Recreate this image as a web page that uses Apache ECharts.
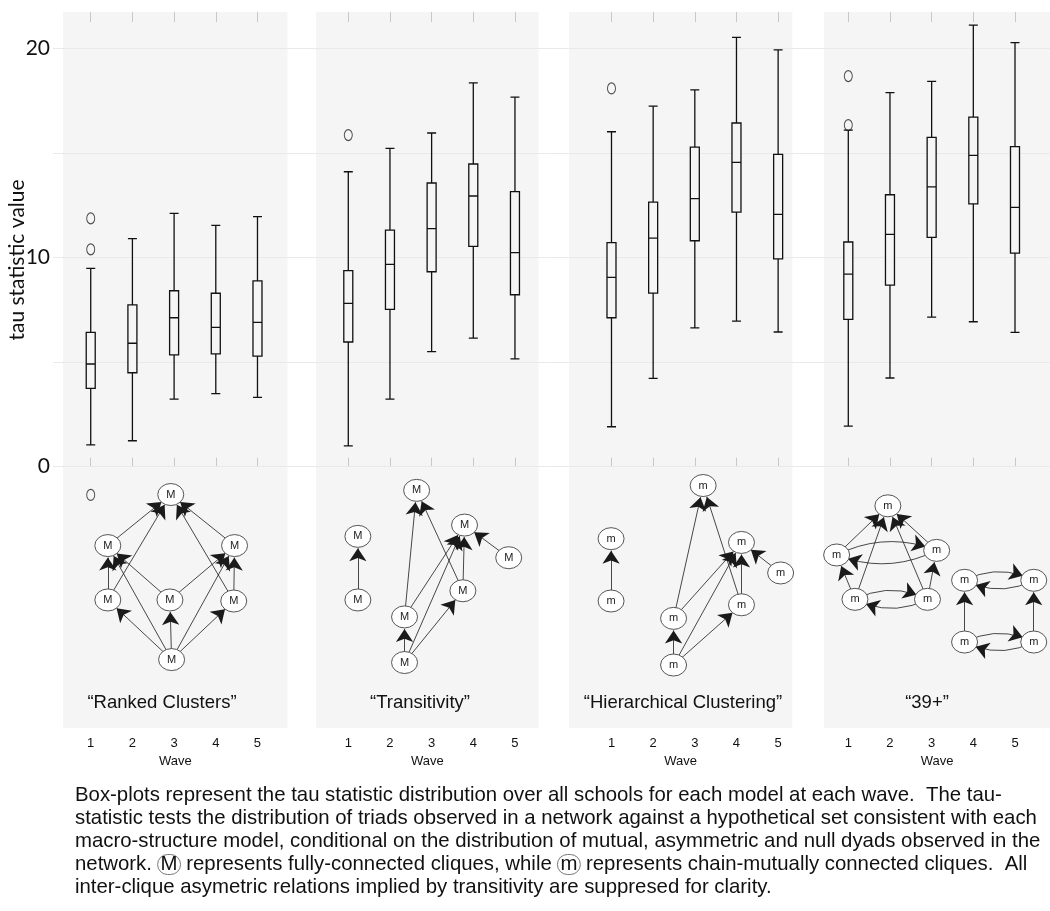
<!DOCTYPE html>
<html lang="en">
<head>
<meta charset="UTF-8">
<title>tau statistic</title>
<style>
    * { margin: 0; }
    html, body, #chart { width: 100%; height: 100%; background: #fff; }
</style>
</head>
<body>
<div id="chart"></div>
<script src="https://cdn.jsdelivr.net/npm/echarts@6/dist/echarts.min.js"></script>
<script>
    // ---- data ----
    var waves = [1, 2, 3, 4, 5];
    var modelNames = ['\u201cRanked Clusters\u201d', '\u201cTransitivity\u201d', '\u201cHierarchical Clustering\u201d', '\u201c39+\u201d'];
    var yTicks = [0, 10, 20];

    // [min, Q1, median, Q3, max] per wave
    var rankedBox = [[1.04, 3.74, 4.91, 6.42, 9.48], [1.24, 4.49, 5.90, 7.74, 10.90], [3.23, 5.35, 7.12, 8.41, 12.11], [3.49, 5.39, 6.66, 8.29, 11.54], [3.31, 5.29, 6.90, 8.88, 11.95]];
    var transBox = [[1.00, 5.96, 7.81, 9.37, 14.10], [3.23, 7.52, 9.67, 11.31, 15.22], [5.50, 9.32, 11.38, 13.56, 15.95], [6.15, 10.53, 12.94, 14.47, 18.35], [5.15, 8.22, 10.23, 13.15, 17.67]];
    var hierBox = [[1.91, 7.12, 9.05, 10.71, 16.01], [4.22, 8.30, 10.93, 12.65, 17.24], [6.64, 10.80, 12.81, 15.28, 18.01], [6.96, 12.17, 14.55, 16.43, 20.52], [6.44, 9.93, 12.06, 14.93, 19.92]];
    var plus39Box = [[1.94, 7.04, 9.21, 10.74, 16.09], [4.24, 8.68, 11.11, 13.00, 17.88], [7.15, 10.96, 13.38, 15.74, 18.42], [6.93, 12.56, 14.88, 16.71, 21.11], [6.42, 10.21, 12.40, 15.30, 20.27]];

    // outliers [wave, value]
    var rankedOut = [[1, 11.87], [1, 10.39], [1, -1.35]];
    var transOut = [[1, 15.85]];
    var hierOut = [[1, 18.08]];
    var plus39Out = [[1, 18.67], [1, 16.33]];

    // diagram nodes [id, text, x (wave), y (tau)] and links [from, to, curveness]
    var rankedNodes = [['A', 'M', 2.92, -1.33], ['B', 'M', 1.41, -3.77], ['C', 'M', 4.45, -3.77], ['D', 'M', 1.41, -6.37], ['E', 'M', 2.90, -6.37], ['F', 'M', 4.43, -6.42], ['G', 'M', 2.94, -9.22]];
    var rankedLinks = [['B', 'A', 0], ['D', 'A', 0], ['C', 'A', 0], ['F', 'A', 0], ['D', 'B', 0], ['E', 'B', 0], ['G', 'B', 0], ['G', 'D', 0], ['G', 'E', 0], ['G', 'F', 0], ['G', 'C', 0], ['E', 'C', 0], ['F', 'C', 0]];
    var transNodes = [['P1', 'M', 1.23, -3.33], ['P2', 'M', 1.23, -6.37], ['T', 'M', 2.64, -1.13], ['R', 'M', 3.79, -2.79], ['S', 'M', 4.85, -4.35], ['Q', 'M', 3.75, -5.93], ['U', 'M', 2.35, -7.18], ['V', 'M', 2.35, -9.36]];
    var hierNodes = [['P1', 'm', 0.99, -3.44], ['P2', 'm', 0.99, -6.42], ['T', 'm', 3.20, -0.90], ['R', 'm', 4.12, -3.62], ['S', 'm', 5.06, -5.08], ['Q', 'm', 4.12, -6.60], ['U', 'm', 2.49, -7.25], ['V', 'm', 2.49, -9.48]];
    var transLinks = [['P2', 'P1', 0], ['U', 'T', 0], ['Q', 'T', 0], ['U', 'R', 0], ['V', 'R', 0], ['Q', 'R', 0], ['S', 'R', 0], ['V', 'U', 0], ['V', 'Q', 0]];
    var plus39Nodes = [['A', 'm', 1.95, -1.87], ['L', 'm', 0.72, -4.22], ['R', 'm', 3.12, -4.00], ['BL', 'm', 1.16, -6.34], ['BR', 'm', 2.90, -6.34],
        ['TL', 'm', 3.79, -5.43], ['TR', 'm', 5.45, -5.43], ['BL2', 'm', 3.79, -8.38], ['BR2', 'm', 5.45, -8.38]];
    var plus39Links = [['L', 'A', 0], ['BL', 'A', 0], ['BR', 'A', 0], ['R', 'A', 0], ['L', 'R', 0.22], ['R', 'L', 0.22], ['BL', 'L', 0], ['BR', 'R', 0],
        ['BL', 'BR', 0.25], ['BR', 'BL', 0.25], ['TL', 'TR', 0.25], ['TR', 'TL', 0.25], ['BL2', 'TL', 0], ['BR2', 'TR', 0], ['BL2', 'BR2', 0.25], ['BR2', 'BL2', 0.25]];

    var captionLines = [
        'Box-plots represent the tau statistic distribution over all schools for each model at each wave.  The tau-',
        'statistic tests the distribution of triads observed in a network against a hypothetical set consistent with each',
        'macro-structure model, conditional on the distribution of mutual, asymmetric and null dyads observed in the',
        'network. {c|M} represents fully-connected cliques, while {c|m} represents chain-mutually connected cliques.  All',
        'inter-clique asymetric relations implied by transitivity are suppresed for clarity.'
    ];

    var boxes = [rankedBox, transBox, hierBox, plus39Box];
    var outs = [rankedOut, transOut, hierOut, plus39Out];
    var nodes = [rankedNodes, transNodes, hierNodes, plus39Nodes];
    var links = [rankedLinks, transLinks, transLinks, plus39Links];

    // ---- layout ----
    var panels = [
        { left: 63, width: 224.5, xmin: 0.335, xmax: 5.72, title: 162 },
        { left: 316, width: 222.5, xmin: 0.225, xmax: 5.565, title: 420 },
        { left: 569, width: 223.3, xmin: -0.02, xmax: 5.34, title: 683 },
        { left: 824, width: 226, xmin: 0.417, xmax: 5.84, title: 927 }
    ];
    var panelTop = 12, panelHeight = 716, ymin = -12.49, ymax = 21.735;
    var sans = 'Liberation Sans, Arial, sans-serif';
    var axisFont = 'Lato, Open Sans, sans-serif';

    var chart = echarts.init(document.getElementById('chart'));

    var grid = [], xAxis = [], yAxis = [], series = [], graphic = [];
    panels.forEach(function (p, i) {
        grid.push({ left: p.left, top: panelTop, width: p.width, height: panelHeight, show: true, backgroundColor: '#f5f5f5', borderWidth: 0 });
        xAxis.push({
            type: 'value', gridIndex: i, min: p.xmin, max: p.xmax, position: 'bottom',
            axisLine: { show: false }, splitLine: { show: false },
            axisTick: { show: true, inside: true, length: 9, customValues: waves, lineStyle: { color: '#c8c8c8' } },
            axisLabel: { customValues: waves, margin: 9, fontSize: 13, color: '#111', fontFamily: sans },
            name: 'Wave', nameLocation: 'middle', nameGap: 23,
            nameTextStyle: { fontSize: 13, color: '#111', fontFamily: sans }
        });
        xAxis.push({
            type: 'value', gridIndex: i, min: p.xmin, max: p.xmax, position: 'top',
            axisLine: { show: false }, splitLine: { show: false }, axisLabel: { show: false },
            axisTick: { show: true, inside: true, length: 10, customValues: waves, lineStyle: { color: '#c8c8c8' } }
        });
        yAxis.push({ type: 'value', gridIndex: i, min: ymin, max: ymax, show: false });

        series.push({
            type: 'boxplot', xAxisIndex: 2 * i, yAxisIndex: i,
            boxWidth: [9, 9],
            itemStyle: { color: '#f5f5f5', borderColor: '#111', borderWidth: 1.3 },
            data: boxes[i].map(function (b, k) { return [waves[k]].concat(b); })
        });
        series.push({
            type: 'scatter', xAxisIndex: 2 * i, yAxisIndex: i,
            symbol: 'circle', symbolSize: [8, 11],
            itemStyle: { color: 'rgba(0,0,0,0)', borderColor: '#222', borderWidth: 1.1 },
            data: outs[i]
        });
        var txt = {};
        nodes[i].forEach(function (n) { txt[n[0]] = n[1]; });
        series.push({
            type: 'graph', coordinateSystem: 'cartesian2d', xAxisIndex: 2 * i, yAxisIndex: i,
            layout: 'none', roam: false, z: 3,
            symbol: 'circle', symbolSize: [26, 22],
            itemStyle: { color: '#fff', borderColor: '#444', borderWidth: 0.9 },
            label: { show: true, position: 'inside', fontSize: 11, color: '#222', fontFamily: sans, formatter: function (d) { return txt[d.name]; } },
            edgeSymbol: ['none', 'arrow'], edgeSymbolSize: [0, 13],
            lineStyle: { color: '#1a1a1a', width: 0.8, opacity: 1 },
            data: nodes[i].map(function (n) { return { name: n[0], value: [n[2], n[3]] }; }),
            links: links[i].map(function (l) { return { source: l[0], target: l[1], lineStyle: { curveness: l[2] } }; })
        });

        graphic.push({
            type: 'text', x: p.title, y: 703, z: 10,
            style: { text: modelNames[i], fontSize: 18.5, fontFamily: sans, fill: '#111', align: 'center', verticalAlign: 'middle' }
        });
    });

    // full-width grid for the shared y scale (labels + grid lines)
    grid.push({ left: 53, right: 0, top: 466.7 - 20 * 20.92, height: 20 * 20.92 });
    xAxis.push({ type: 'value', gridIndex: 4, show: false });
    yAxis.push({
        type: 'value', gridIndex: 4, min: 0, max: 20, interval: 5, z: 1,
        axisLine: { show: false }, axisTick: { show: false },
        splitLine: { show: true, lineStyle: { color: '#e9e9e9', width: 1 } },
        axisLabel: {
            margin: 3, fontSize: 21, color: '#111', fontFamily: axisFont,
            formatter: function (v) { return yTicks.indexOf(v) >= 0 ? String(v) : ''; }
        }
    });

    graphic.push({
        type: 'text', x: 17, y: 260, rotation: Math.PI / 2,
        style: { text: 'tau statistic value', fontSize: 21, fontFamily: axisFont, fill: '#111', align: 'center', verticalAlign: 'middle' }
    });

    // caption: fit line 2 to its width in the picture
    var capFont = 'Liberation Sans Narrow, Arial Narrow, Liberation Sans, sans-serif';
    var ctx = document.createElement('canvas').getContext('2d');
    ctx.font = '20px ' + capFont;
    var capSize = Math.min(21, 20 * 962 / ctx.measureText(captionLines[1]).width);
    graphic.push({
        type: 'text', x: 75, y: 784,
        style: {
            text: captionLines.join('\n'), fontSize: capSize, lineHeight: 23, fontFamily: capFont, fill: '#111',
            rich: { c: { fontSize: capSize, fontFamily: capFont, lineHeight: 23, borderColor: '#555', borderWidth: 0.8, borderRadius: 10, padding: [0, 3, 0, 3] } }
        }
    });

    chart.setOption({
        animation: false,
        grid: grid,
        xAxis: xAxis,
        yAxis: yAxis,
        series: series,
        graphic: graphic
    });
</script>
</body>
</html>
